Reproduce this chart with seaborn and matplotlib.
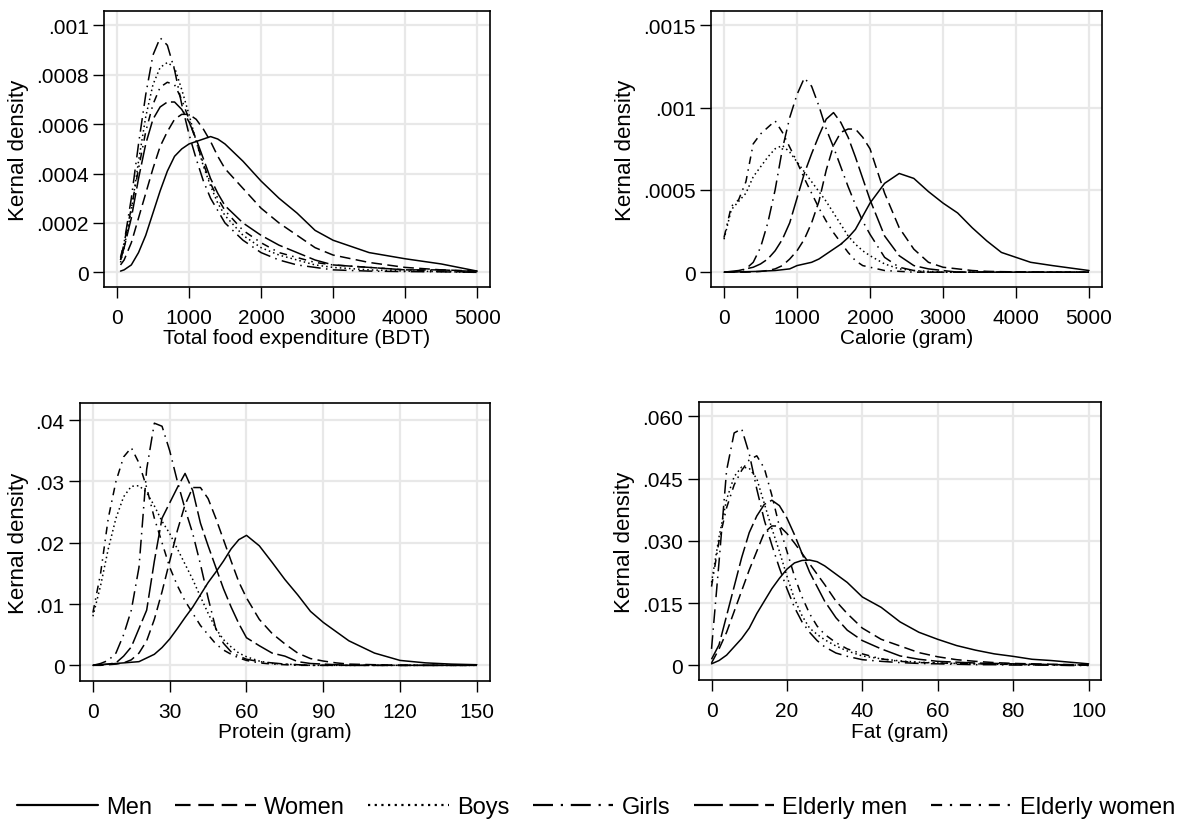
import pandas as pd
import matplotlib
matplotlib.use("Agg")
import matplotlib.pyplot as plt
import seaborn as sns

# --- data (kernel density curves) ---
GROUPS = ['Men', 'Women', 'Boys', 'Girls', 'Elderly men', 'Elderly women']

# Total food expenditure (BDT)
FOOD_X = [50, 100, 200, 300, 400, 500, 600, 700, 800, 900, 1000, 1100, 1200, 1300, 1400,
          1500, 1750, 2000, 2250, 2500, 2750, 3000, 3500, 4000, 4500, 5000]
FOOD_MEN = [0.000005, 0.00001, 0.00003, 0.00008, 0.00015, 0.00024, 0.00033, 0.00041, 0.00047, 0.00050,
            0.00052, 0.00053, 0.00054, 0.00055, 0.00054, 0.00052, 0.00045, 0.00037, 0.00030, 0.00024,
            0.00017, 0.00013, 0.00008, 0.000055, 0.000034, 0.000005]
FOOD_WOMEN = [0.00003, 0.00005, 0.00012, 0.00022, 0.00032, 0.00042, 0.00051, 0.00057, 0.00062, 0.00064,
              0.00064, 0.00062, 0.00058, 0.00053, 0.00047, 0.00042, 0.00034, 0.00026, 0.00020, 0.00015,
              0.00010, 0.00007, 0.00004, 0.00002, 0.00001, 0.000005]
FOOD_BOYS = [0.00004, 0.0001, 0.00025, 0.00045, 0.00063, 0.00076, 0.00083, 0.00085, 0.00083, 0.00074,
             0.00064, 0.00053, 0.00043, 0.00035, 0.00028, 0.00023, 0.00015, 0.0001, 0.00007, 0.00005,
             0.00003, 0.00002, 0.00001, 0.000005, 0.000003, 0.0]
FOOD_GIRLS = [0.00005, 0.00012, 0.00030, 0.00052, 0.00072, 0.00088, 0.00095, 0.00092, 0.00082, 0.00068,
              0.00056, 0.00046, 0.00037, 0.00030, 0.00025, 0.00020, 0.00013, 0.00008, 0.00005, 0.00003,
              0.00002, 0.00001, 0.000005, 0.000003, 0.000002, 0.0]
FOOD_ELD_MEN = [0.00005, 0.0001, 0.00022, 0.00038, 0.00052, 0.00062, 0.00067, 0.00069, 0.00069, 0.00066,
                0.00061, 0.00054, 0.00046, 0.00038, 0.00032, 0.00027, 0.00020, 0.00015, 0.00011, 0.00008,
                0.00005, 0.00003, 0.00002, 0.00001, 0.00001, 0.000003]
FOOD_ELD_WOMEN = [0.00006, 0.00012, 0.00026, 0.00042, 0.00057, 0.00068, 0.00075, 0.00077, 0.00076, 0.00070,
                  0.00062, 0.00053, 0.00044, 0.00036, 0.00030, 0.00025, 0.00017, 0.00012, 0.00008, 0.00006,
                  0.00004, 0.00003, 0.00002, 0.00001, 0.000005, 0.0]

# Calorie (gram)
CAL_X = [0, 100, 200, 300, 400, 500, 600, 700, 800, 900, 1000, 1100, 1200, 1300, 1400, 1500, 1600,
         1700, 1800, 1900, 2000, 2200, 2400, 2600, 2800, 3000, 3200, 3400, 3600, 3800, 4000, 4200, 4500, 5000]
CAL_MEN = [0, 0, 0.000002, 0.000003, 0.000004, 0.000005, 0.000008, 0.00001, 0.000015, 0.00002, 0.00004,
           0.00005, 0.00006, 0.00008, 0.00011, 0.00014, 0.00017, 0.00021, 0.00026, 0.00034, 0.00042, 0.00054,
           0.00060, 0.00057, 0.00049, 0.00042, 0.00036, 0.00027, 0.00019, 0.00012, 0.00009, 0.00006, 0.00004,
           0.00001]
CAL_WOMEN = [0, 0, 0, 0, 0.000002, 0.000005, 0.00001, 0.00002, 0.00004, 0.00008, 0.00013, 0.00020, 0.00030,
             0.00043, 0.00062, 0.00077, 0.00085, 0.00087, 0.00087, 0.00082, 0.00075, 0.00048, 0.00027,
             0.00014, 0.00006, 0.00003, 0.00002, 0.00001, 0.000005, 0.000003, 0.000002, 0.000001, 0, 0]
CAL_BOYS = [0.0002, 0.00038, 0.00043, 0.00048, 0.00058, 0.00064, 0.00070, 0.00075, 0.00077, 0.00073, 0.00067,
            0.00061, 0.00055, 0.00049, 0.00043, 0.00036, 0.00029, 0.00022, 0.00017, 0.00013, 0.00010, 0.00005,
            0.00002, 0.00001, 0.000005, 0, 0, 0, 0, 0, 0, 0, 0, 0]
CAL_GIRLS = [0, 0, 0.000005, 0.00002, 0.00006, 0.00015, 0.00030, 0.00050, 0.00075, 0.00094, 0.00108, 0.00118,
             0.00113, 0.00101, 0.00087, 0.00076, 0.00064, 0.00052, 0.00041, 0.00031, 0.00023, 0.00009, 0.00003,
             0.00001, 0, 0, 0, 0, 0, 0, 0, 0, 0, 0]
CAL_ELD_MEN = [0, 0.000005, 0.00001, 0.00002, 0.00003, 0.00005, 0.00008, 0.00013, 0.0002, 0.00030, 0.00045,
               0.00060, 0.00072, 0.00083, 0.00093, 0.00097, 0.00091, 0.00082, 0.00070, 0.00057, 0.00044,
               0.00022, 0.00010, 0.00004, 0.00002, 0.00001, 0, 0, 0, 0, 0, 0, 0, 0]
CAL_ELD_WOMEN = [0.00021, 0.00040, 0.00044, 0.00055, 0.00078, 0.00084, 0.00088, 0.00092, 0.00085, 0.00076,
                 0.00067, 0.00057, 0.00048, 0.00039, 0.00031, 0.00024, 0.00018, 0.00012, 0.00007, 0.00004,
                 0.00003, 0.00001, 0.000005, 0, 0, 0, 0, 0, 0, 0, 0, 0, 0, 0]

# Protein (gram)
PRO_X = [0, 3, 6, 9, 12, 15, 18, 21, 24, 27, 30, 33, 36, 39, 42, 45, 48, 51, 54, 57, 60, 65, 70, 75, 80,
         85, 90, 95, 100, 110, 120, 130, 140, 150]
PRO_MEN = [0, 0.0001, 0.0002, 0.0003, 0.0004, 0.0005, 0.0006, 0.0012, 0.0018, 0.0029, 0.0043, 0.0060, 0.0078,
           0.0095, 0.0115, 0.0135, 0.0152, 0.0170, 0.0190, 0.0205, 0.0212, 0.0195, 0.0168, 0.0140, 0.0115,
           0.0088, 0.0070, 0.0055, 0.0040, 0.0020, 0.0008, 0.0004, 0.0002, 0.0001]
PRO_WOMEN = [0, 0, 0.0001, 0.0002, 0.0004, 0.0009, 0.0020, 0.0040, 0.0075, 0.0120, 0.0170, 0.0220, 0.0262,
             0.0290, 0.0290, 0.0272, 0.0240, 0.0205, 0.0170, 0.0136, 0.0110, 0.0075, 0.0052, 0.0035, 0.0020,
             0.0011, 0.0007, 0.0004, 0.0002, 0.0001, 0, 0, 0, 0]
PRO_BOYS = [0.0080, 0.0130, 0.0190, 0.0240, 0.0275, 0.0292, 0.0293, 0.0282, 0.0260, 0.0235, 0.0215, 0.0190,
            0.0165, 0.0140, 0.0112, 0.0085, 0.0060, 0.0042, 0.0030, 0.0020, 0.0014, 0.0007, 0.0003, 0.0002,
            0.0001, 0, 0, 0, 0, 0, 0, 0, 0, 0]
PRO_GIRLS = [0, 0.0003, 0.0008, 0.0020, 0.0050, 0.0090, 0.0160, 0.0320, 0.0395, 0.0390, 0.0350, 0.0300,
             0.0255, 0.0215, 0.0165, 0.0110, 0.0060, 0.0036, 0.0022, 0.0015, 0.0010, 0.0006, 0.0004, 0.0002,
             0.0001, 0, 0, 0, 0, 0, 0, 0, 0, 0]
PRO_ELD_MEN = [0, 0.0001, 0.0002, 0.0004, 0.0015, 0.0030, 0.0060, 0.0090, 0.0170, 0.0240, 0.0265, 0.0290,
               0.0313, 0.0285, 0.0232, 0.0195, 0.0160, 0.0125, 0.0095, 0.0068, 0.0045, 0.0032, 0.0020, 0.0015,
               0.0006, 0.0003, 0.0002, 0.0001, 0, 0, 0, 0, 0, 0]
PRO_ELD_WOMEN = [0.0086, 0.0150, 0.0240, 0.0300, 0.0340, 0.0355, 0.0330, 0.0290, 0.0240, 0.0200, 0.0160,
                 0.0130, 0.0105, 0.0085, 0.0065, 0.0050, 0.0035, 0.0025, 0.0018, 0.0012, 0.0008, 0.0004,
                 0.0002, 0.0001, 0, 0, 0, 0, 0, 0, 0, 0, 0, 0]

# Fat (gram)
FAT_X = [0, 2, 4, 6, 8, 10, 12, 14, 16, 18, 20, 22, 24, 26, 28, 30, 33, 36, 40, 45, 50, 55, 60, 65, 70,
         75, 80, 85, 90, 95, 100]
FAT_MEN = [0.0004, 0.0012, 0.0025, 0.0045, 0.0065, 0.0090, 0.0125, 0.0155, 0.0185, 0.0210, 0.0232, 0.0247,
           0.0253, 0.0254, 0.0250, 0.0240, 0.0220, 0.0200, 0.0165, 0.0140, 0.0105, 0.0080, 0.0063, 0.0048,
           0.0037, 0.0028, 0.0022, 0.0015, 0.0012, 0.0008, 0.0004]
FAT_WOMEN = [0.0006, 0.0040, 0.0080, 0.0130, 0.0180, 0.0230, 0.0275, 0.0320, 0.0336, 0.0336, 0.0318, 0.0295,
             0.0270, 0.0245, 0.0220, 0.0195, 0.0155, 0.0125, 0.0090, 0.0063, 0.0047, 0.0031, 0.0021, 0.0014,
             0.0010, 0.0007, 0.0005, 0.0004, 0.0003, 0.0002, 0.0002]
FAT_BOYS = [0.0200, 0.0310, 0.0400, 0.0455, 0.0478, 0.0475, 0.0450, 0.0390, 0.0330, 0.0275, 0.0215, 0.0160,
            0.0120, 0.0090, 0.0075, 0.0062, 0.0047, 0.0035, 0.0023, 0.0016, 0.0011, 0.0008, 0.0006, 0.0005,
            0.0004, 0.0003, 0.0003, 0.0002, 0.0002, 0.0001, 0.0001]
FAT_GIRLS = [0.0040, 0.0250, 0.0470, 0.0560, 0.0570, 0.0510, 0.0425, 0.0350, 0.0290, 0.0235, 0.0185, 0.0140,
             0.0105, 0.0080, 0.0060, 0.0045, 0.0030, 0.0022, 0.0014, 0.0010, 0.0007, 0.0005, 0.0004, 0.0003,
             0.0002, 0.0002, 0.0001, 0.0001, 0.0001, 0, 0]
FAT_ELD_MEN = [0.0015, 0.0050, 0.0120, 0.0190, 0.0260, 0.0320, 0.0360, 0.0388, 0.0398, 0.0385, 0.0355,
               0.0315, 0.0270, 0.0225, 0.0190, 0.0155, 0.0115, 0.0085, 0.0060, 0.0040, 0.0023, 0.0015, 0.0010,
               0.0008, 0.0006, 0.0005, 0.0004, 0.0003, 0.0002, 0.0002, 0.0001]
FAT_ELD_WOMEN = [0.0190, 0.0300, 0.0380, 0.0435, 0.0470, 0.0495, 0.0505, 0.0475, 0.0410, 0.0335, 0.0275,
                 0.0215, 0.0165, 0.0125, 0.0095, 0.0075, 0.0055, 0.0040, 0.0028, 0.0016, 0.0010, 0.0007,
                 0.0006, 0.0005, 0.0004, 0.0003, 0.0003, 0.0002, 0.0002, 0.0001, 0.0001]

# ticks
FOOD_XTICKS = [0, 1000, 2000, 3000, 4000, 5000]
FOOD_YTICKS = [0, 0.0002, 0.0004, 0.0006, 0.0008, 0.001]
FOOD_YLABELS = ['0', '.0002', '.0004', '.0006', '.0008', '.001']
CAL_XTICKS = [0, 1000, 2000, 3000, 4000, 5000]
CAL_YTICKS = [0, 0.0005, 0.001, 0.0015]
CAL_YLABELS = ['0', '.0005', '.001', '.0015']
PRO_XTICKS = [0, 30, 60, 90, 120, 150]
PRO_YTICKS = [0, 0.01, 0.02, 0.03, 0.04]
PRO_YLABELS = ['0', '.01', '.02', '.03', '.04']
FAT_XTICKS = [0, 20, 40, 60, 80, 100]
FAT_YTICKS = [0, 0.015, 0.03, 0.045, 0.06]
FAT_YLABELS = ['0', '.015', '.030', '.045', '.060']


def panel_frame(x, series):
    parts = []
    for g, y in zip(GROUPS, series):
        parts.append(pd.DataFrame({'x': x, 'density': y, 'group': g}))
    return pd.concat(parts, ignore_index=True)


panels = [
    (panel_frame(FOOD_X, [FOOD_MEN, FOOD_WOMEN, FOOD_BOYS, FOOD_GIRLS, FOOD_ELD_MEN, FOOD_ELD_WOMEN]),
     'Total food expenditure (BDT)', FOOD_XTICKS, FOOD_YTICKS, FOOD_YLABELS,
     [0.0872, 0.652, 0.324, 0.333], (-180, 5180), (-0.00006, 0.001057)),
    (panel_frame(CAL_X, [CAL_MEN, CAL_WOMEN, CAL_BOYS, CAL_GIRLS, CAL_ELD_MEN, CAL_ELD_WOMEN]),
     'Calorie (gram)', CAL_XTICKS, CAL_YTICKS, CAL_YLABELS,
     [0.5965, 0.652, 0.328, 0.333], (-178, 5178), (-0.000091, 0.001585)),
    (panel_frame(PRO_X, [PRO_MEN, PRO_WOMEN, PRO_BOYS, PRO_GIRLS, PRO_ELD_MEN, PRO_ELD_WOMEN]),
     'Protein (gram)', PRO_XTICKS, PRO_YTICKS, PRO_YLABELS,
     [0.067, 0.176, 0.344, 0.336], (-5.1, 155.1), (-0.0026, 0.04278)),
    (panel_frame(FAT_X, [FAT_MEN, FAT_WOMEN, FAT_BOYS, FAT_GIRLS, FAT_ELD_MEN, FAT_ELD_WOMEN]),
     'Fat (gram)', FAT_XTICKS, FAT_YTICKS, FAT_YLABELS,
     [0.586, 0.177, 0.338, 0.336], (-3.45, 103.4), (-0.0036, 0.0634)),
]

# line patterns, Stata-like
DASHES = {
    'Men': '',
    'Women': (7, 3.5),
    'Boys': (1, 2),
    'Girls': (9, 3.5, 1, 3.5),
    'Elderly men': (13, 3),
    'Elderly women': (5, 3.5, 1, 3.5),
}

sns.set_style("white")
plt.rcParams['font.family'] = ['Liberation Sans', 'DejaVu Sans']
plt.rcParams['text.color'] = 'black'
plt.rcParams['axes.labelcolor'] = 'black'

fig = plt.figure(figsize=(11.92, 8.28), dpi=100)

handles, labels = None, None
for i, (df, xlabel, xt, yt, ylab, pos, xlim, ylim) in enumerate(panels):
    ax = fig.add_axes(pos)
    sns.lineplot(data=df, x='x', y='density', style='group', style_order=GROUPS,
                 dashes=DASHES, color='black', linewidth=1.1, estimator=None,
                 legend=(i == 0), ax=ax)
    if i == 0:
        handles, labels = ax.get_legend_handles_labels()
        ax.get_legend().remove()
    ax.set_xlim(*xlim)
    ax.set_ylim(*ylim)
    ax.set_xticks(xt)
    ax.set_xticklabels([str(v) for v in xt])
    ax.set_yticks(yt)
    ax.set_yticklabels(ylab)
    ax.grid(True, color='#e8e8e8', linewidth=1.6)
    ax.set_axisbelow(True)
    for s in ax.spines.values():
        s.set_color('black')
        s.set_linewidth(1.2)
    ax.tick_params(axis='both', which='major', direction='out', length=8, width=1.0,
                   color='black', labelsize=15, labelcolor='black', pad=3,
                   bottom=True, left=True)
    ax.tick_params(axis='x', pad=7)
    ax.set_xlabel(xlabel, fontsize=15, labelpad=1)
    ax.set_ylabel('Kernal density', fontsize=16, labelpad=5)

for h in handles:
    h.set_color('black')
    h.set_linewidth(1.6)

fig.legend(handles, labels, loc='center', bbox_to_anchor=(0.5, 0.024), ncol=6, frameon=False,
           fontsize=17, handlelength=3.4, handletextpad=0.35, columnspacing=1.0)

fig.savefig('out.png', dpi=100)
